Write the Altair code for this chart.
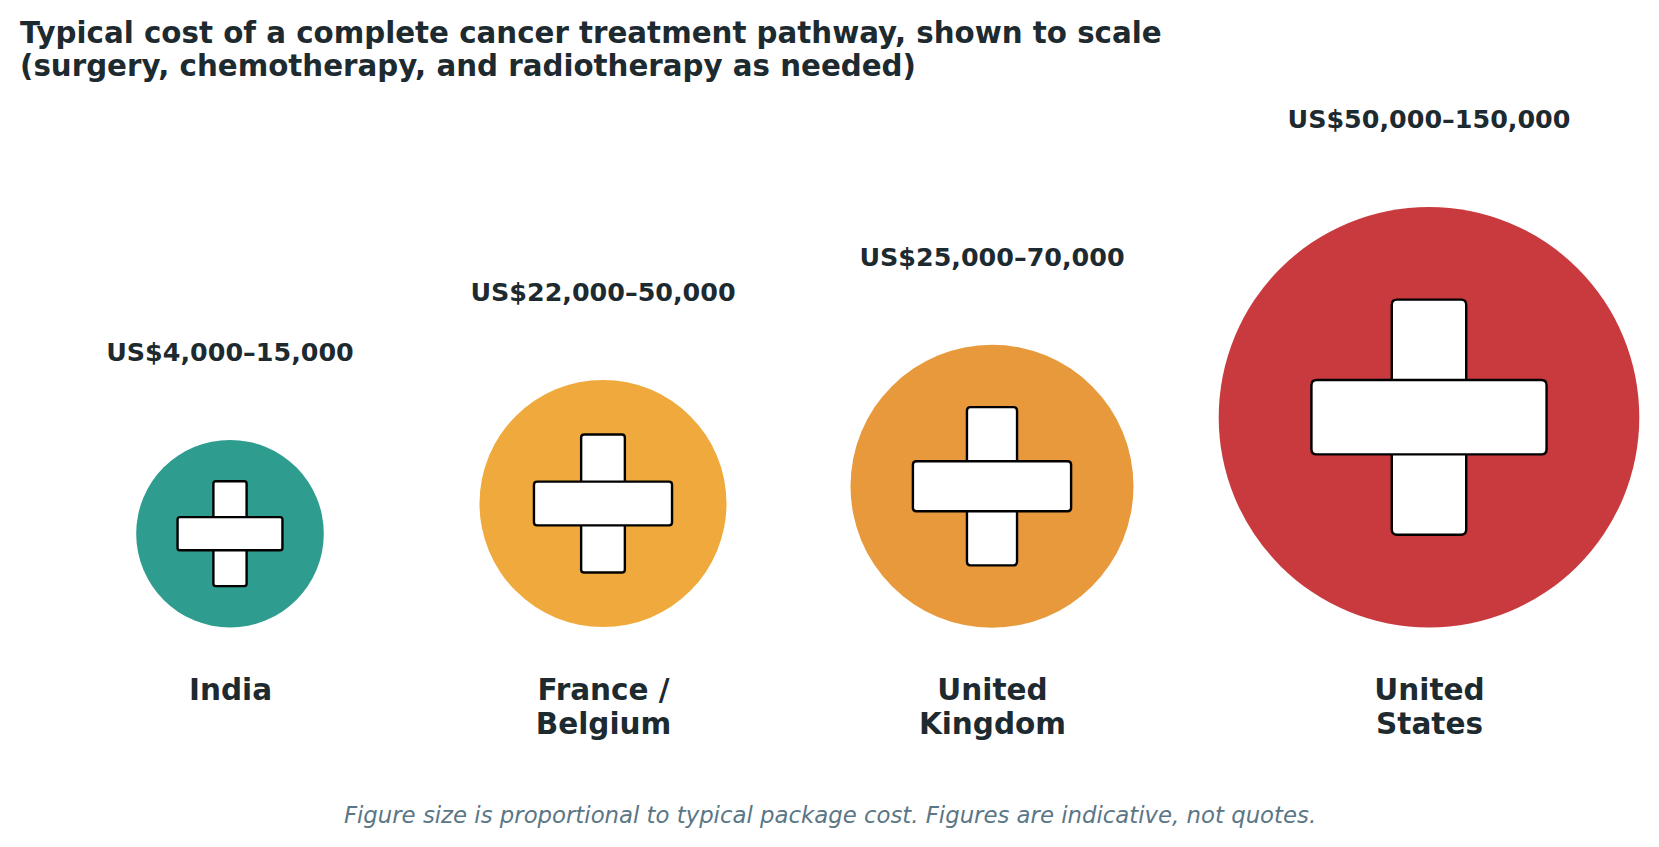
import json

import altair as alt
import pandas as pd

# values
countries = ["India", "France / Belgium", "United Kingdom", "United States"]
country_lines = [["India"], ["France /", "Belgium"], ["United", "Kingdom"], ["United", "States"]]
cost_low = [4000, 22000, 25000, 50000]
cost_high = [15000, 50000, 70000, 150000]

title_lines = [
    "Typical cost of a complete cancer treatment pathway, shown to scale",
    "(surgery, chemotherapy, and radiotherapy as needed)",
]
caption = "Figure size is proportional to typical package cost. Figures are indicative, not quotes."

# styles
circle_colors = ["#2e9c8e", "#f0a93c", "#e8993c", "#c83a3e"]
TEXT = "#1d2a2f"
CAPTION = "#5b7685"
FONT = "DejaVu Sans"

df = pd.DataFrame({
    "slot": range(len(countries)),
    "country": countries,
    "low": cost_low,
    "high": cost_high,
})
df["label"] = [f"US${lo:,}\u2013{hi:,}" for lo, hi in zip(cost_low, cost_high)]


def bar_path(w, h, c=0.025):
    # rounded rectangle in symbol units (1 = circle radius)
    return (
        f"M {-w + c} {-h} L {w - c} {-h} Q {w} {-h} {w} {-h + c} "
        f"L {w} {h - c} Q {w} {h} {w - c} {h} "
        f"L {-w + c} {h} Q {-w} {h} {-w} {h - c} "
        f"L {-w} {-h + c} Q {-w} {-h} {-w + c} {-h} Z"
    )


PAD_TOP = 92
domain = [min(cost_high), max(cost_high)]

# scales: radius grows linearly with the upper cost, circles sit on one baseline
x_scale = alt.Scale(domain=list(range(len(countries))), range=[222, 595, 984, 1421], nice=False, zero=False)
size_scale = alt.Scale(type="pow", exponent=1.4, domain=domain, range=[35194, 176904], zero=False, nice=False)
y_centre = alt.Scale(domain=domain, range=[533.7 - 8 - PAD_TOP, 417.2 - 8 - PAD_TOP], zero=False, nice=False)
y_label = alt.Scale(domain=domain, range=[353.4 - 8 - PAD_TOP, 120.4 - 8 - PAD_TOP], zero=False, nice=False)

x_axis = alt.Axis(
    values=list(range(len(countries))),
    labelExpr=json.dumps(country_lines) + "[datum.value]",
    domain=False, ticks=False, grid=False,
    labelFont=FONT, labelFontSize=29.5, labelFontWeight="bold", labelColor=TEXT,
    labelLineHeight=34, labelPadding=36, labelAngle=0, labelFlush=False, labelOverlap=False,
    title=caption, titleFont=FONT, titleFontSize=22.8, titleFontStyle="italic",
    titleFontWeight="normal", titleColor=CAPTION, titlePadding=66,
)

base = alt.Chart(df).encode(
    x=alt.X("slot:Q", scale=x_scale, axis=x_axis),
)

circles = base.mark_point(shape="circle", filled=True, opacity=1).encode(
    y=alt.Y("high:Q", scale=y_centre, axis=None),
    size=alt.Size("high:Q", scale=size_scale, legend=None),
    color=alt.Color("country:N", scale=alt.Scale(domain=countries, range=circle_colors), legend=None),
)

cross_style = dict(filled=True, fill="white", stroke="black", strokeWidth=2.4, opacity=1)

vbar = base.mark_point(shape=bar_path(0.177, 0.559), **cross_style).encode(
    y=alt.Y("high:Q", scale=y_centre, axis=None),
    size=alt.Size("high:Q", scale=size_scale, legend=None),
)

hbar = base.mark_point(shape=bar_path(0.559, 0.177), **cross_style).encode(
    y=alt.Y("high:Q", scale=y_centre, axis=None),
    size=alt.Size("high:Q", scale=size_scale, legend=None),
)

labels = base.mark_text(font=FONT, fontSize=25.4, fontWeight="bold", color=TEXT, baseline="middle").encode(
    y=alt.Y("high:Q", scale=y_label, axis=None),
    text="label:N",
)

chart = alt.layer(circles, vbar, hbar, labels).resolve_scale(
    y="independent"
).properties(
    width=1643,
    height=540,
    title=alt.TitleParams(
        text=title_lines, anchor="start", font=FONT, fontSize=29.3, fontWeight="bold",
        color=TEXT, lineHeight=33, dx=12, offset=18,
    ),
    autosize=alt.AutoSizeParams(type="none"),
    padding={"left": 0, "right": 0, "top": PAD_TOP, "bottom": 831 - 540 - PAD_TOP},
).configure_view(stroke=None)

chart.save("out.html", embed_options={"renderer": "svg", "actions": False})
